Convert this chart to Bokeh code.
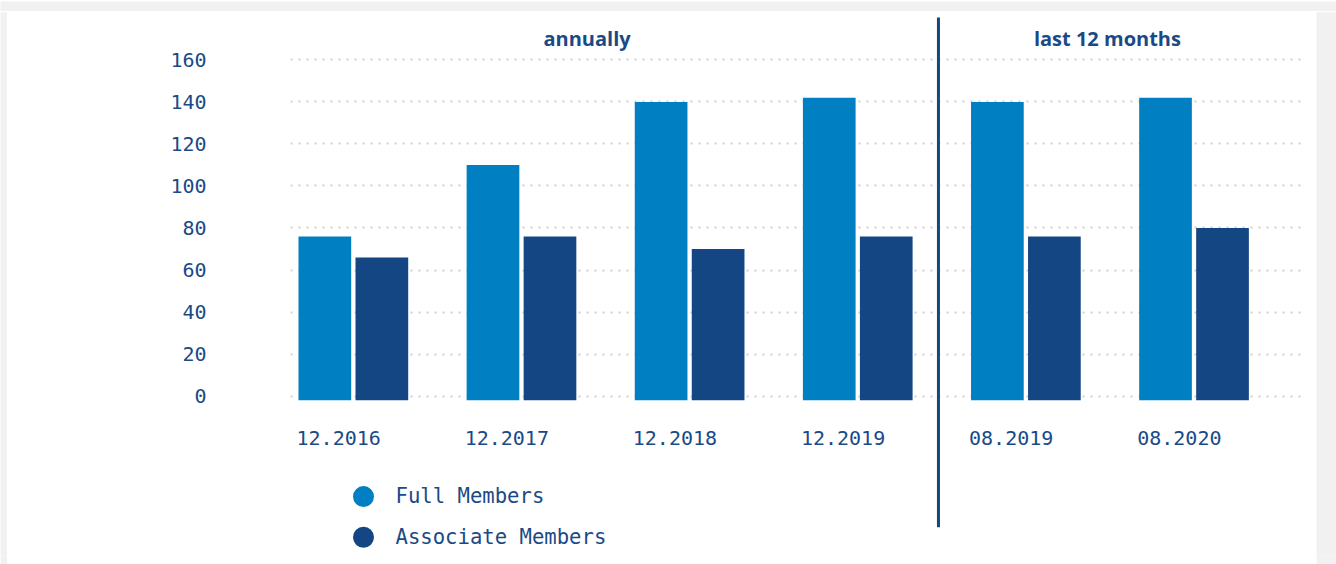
import numpy as np
from bokeh.plotting import figure
from bokeh.layouts import column, row
from bokeh.models import ColumnDataSource, FixedTicker, Range1d
from bokeh.core.properties import value
from bokeh.embed import file_html
from bokeh.resources import INLINE

categories = ["12.2016", "12.2017", "12.2018", "12.2019", "08.2019", "08.2020"]
full_members = [76, 110, 140, 142, 140, 142]
associate_members = [66, 76, 70, 76, 76, 80]
series_names = ["Full Members", "Associate Members"]
section_titles = ["annually", "last 12 months"]
y_ticks = [0, 20, 40, 60, 80, 100, 120, 140, 160]

FULL = "#0080c2"
ASSOC = "#134682"
NAVY = "#1a4a86"
GRAY = "#f1f1f1"
MONO = "DejaVu Sans Mono"

idx = np.arange(len(categories), dtype=float)
off = 0.1695
bw = 0.3134


def band(w, h):
    f = figure(width=w, height=h, output_backend="svg", toolbar_location=None,
               x_axis_location=None, y_axis_location=None, min_border=0)
    f.outline_line_color = None
    f.background_fill_color = GRAY
    f.border_fill_color = GRAY
    f.grid.visible = False
    return f


main = figure(width=1309, height=553, output_backend="svg", toolbar_location=None,
              x_range=Range1d(-0.3738, 5.669), y_range=Range1d(-76.4, 182.6),
              x_axis_location=None, min_border_left=283, min_border_right=10,
              min_border_top=1, min_border_bottom=8)
main.outline_line_color = None
main.background_fill_color = "white"
main.border_fill_color = "white"
main.xgrid.visible = False

yax = main.yaxis[0]
yax.ticker = FixedTicker(ticks=y_ticks)
yax.axis_line_color = None
yax.major_tick_line_color = None
yax.minor_tick_line_color = None
yax.major_tick_in = 0
yax.major_tick_out = 0
yax.major_label_standoff = 84
yax.major_label_text_font = MONO
yax.major_label_text_font_size = "20px"
yax.major_label_text_color = NAVY

main.ygrid.ticker = FixedTicker(ticks=y_ticks)
main.ygrid.grid_line_color = "#cfcfcf"
main.ygrid.grid_line_width = 2
main.ygrid.grid_line_dash = "2 6"

src = ColumnDataSource(dict(xf=idx - off, xa=idx + off, full=full_members,
                            assoc=associate_members))
main.vbar(x="xf", top="full", bottom=-2, width=bw, source=src, fill_color=FULL, line_color=None)
main.vbar(x="xa", top="assoc", bottom=-2, width=bw, source=src, fill_color=ASSOC, line_color=None)

# category labels, left aligned with the bar group
lab = ColumnDataSource(dict(x=idx - off - bw / 2, y=[-20.1] * len(categories), t=categories))
main.text(x="x", y="y", text="t", source=lab, x_offset=-2, text_font=value(MONO),
          text_font_size="20px", text_color=NAVY, text_align="left", text_baseline="alphabetic")

# section divider and titles
main.segment(x0=[3.48], y0=[180.2], x1=[3.48], y1=[-62.5], line_color=ASSOC, line_width=3)
main.text(x=[1.39, 4.485], y=[170.2, 170.2], text=section_titles, text_font=value("Open Sans"),
          text_font_style="bold", text_font_size="20px", text_color=NAVY,
          text_align="center", text_baseline="alphabetic")

# legend
main.scatter(x=[0.0604, 0.0604], y=[-47.86, -67.24], size=21, marker="circle",
             fill_color=[FULL, ASSOC], line_color=None)
main.text(x=[0.2507, 0.2507], y=[-47.5, -66.9], text=series_names, text_font=value(MONO),
          text_font_size="20.6px", text_color=NAVY, text_align="left", text_baseline="alphabetic")

p = column(band(1336, 11), row(band(7, 553), main, band(20, 553)))

open("out.html", "w").write(file_html(p, INLINE))
